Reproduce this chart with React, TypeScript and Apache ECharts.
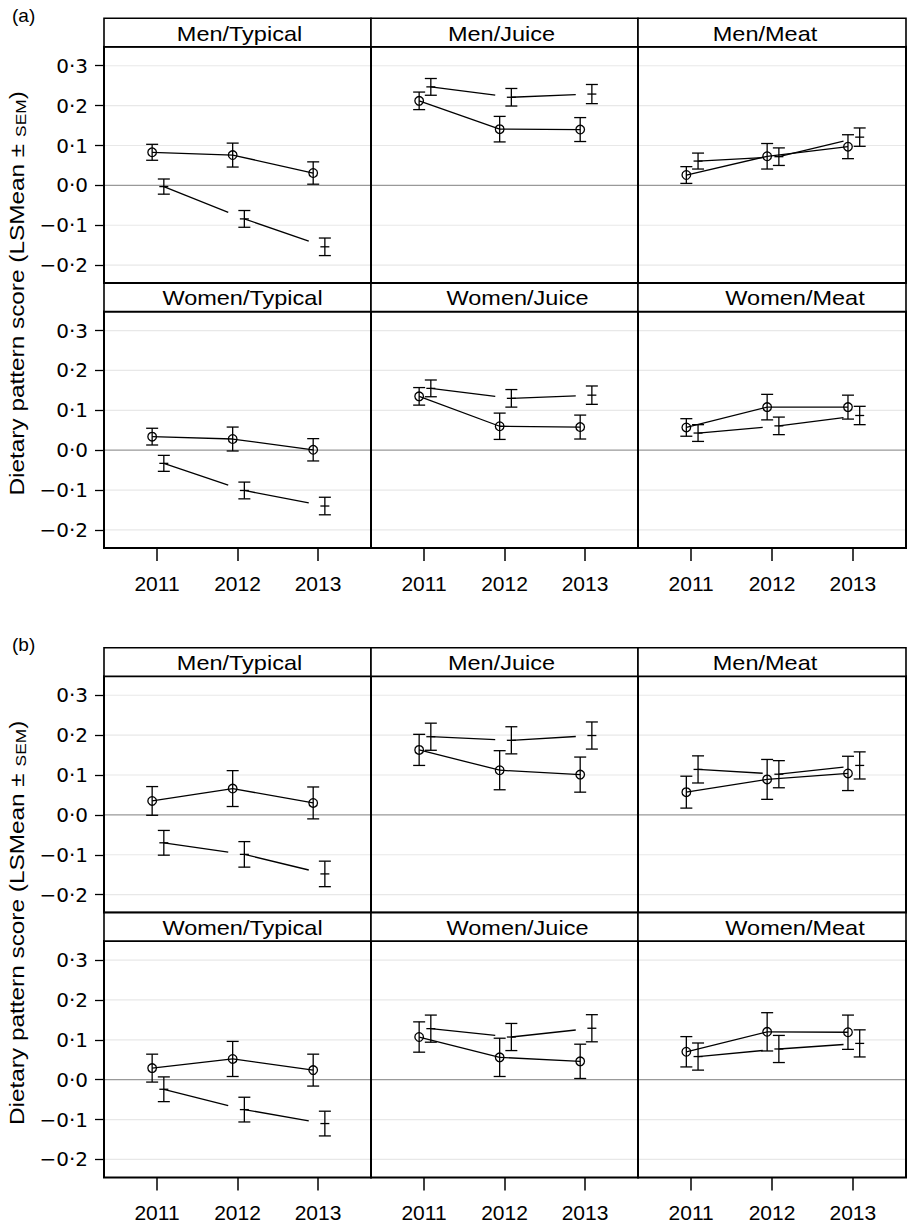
import React, { useEffect, useRef } from 'react';
import * as echarts from 'echarts';

// ---------- data ----------
const years = [2011, 2012, 2013];
const panelTitles = ['Men/Typical', 'Men/Juice', 'Men/Meat', 'Women/Typical', 'Women/Juice', 'Women/Meat'];
const yTickValues = [-0.2, -0.1, 0, 0.1, 0.2, 0.3];
const figureLabels = ['(a)', '(b)'];
const yAxisTitle = 'Dietary pattern score (LSMean \u00b1 {s|SEM})';

// (a) circle group: mean and SEM per panel (rows follow panelTitles)
const aCircleMean = [
  [0.083, 0.076, 0.031],
  [0.212, 0.141, 0.140],
  [0.026, 0.073, 0.097],
  [0.034, 0.028, 0.001],
  [0.135, 0.060, 0.058],
  [0.057, 0.108, 0.108],
];
const aCircleSem = [
  [0.020, 0.030, 0.028],
  [0.022, 0.032, 0.030],
  [0.021, 0.032, 0.030],
  [0.021, 0.030, 0.028],
  [0.022, 0.033, 0.030],
  [0.022, 0.032, 0.030],
];
// (a) dash group
const aDashMean = [
  [-0.003, -0.084, -0.154],
  [0.247, 0.221, 0.229],
  [0.061, 0.072, 0.121],
  [-0.033, -0.101, -0.140],
  [0.155, 0.130, 0.138],
  [0.043, 0.061, 0.087],
];
const aDashSem = [
  [0.019, 0.021, 0.022],
  [0.021, 0.022, 0.024],
  [0.020, 0.022, 0.023],
  [0.020, 0.021, 0.022],
  [0.021, 0.022, 0.023],
  [0.021, 0.022, 0.023],
];
// (b) circle group
const bCircleMean = [
  [0.035, 0.066, 0.030],
  [0.163, 0.112, 0.101],
  [0.057, 0.089, 0.104],
  [0.029, 0.052, 0.024],
  [0.107, 0.056, 0.046],
  [0.070, 0.120, 0.119],
];
const bCircleSem = [
  [0.036, 0.045, 0.040],
  [0.039, 0.049, 0.044],
  [0.040, 0.050, 0.043],
  [0.035, 0.044, 0.040],
  [0.038, 0.048, 0.043],
  [0.038, 0.048, 0.043],
];
// (b) dash group
const bDashMean = [
  [-0.070, -0.099, -0.148],
  [0.196, 0.187, 0.199],
  [0.114, 0.102, 0.124],
  [-0.024, -0.075, -0.110],
  [0.128, 0.107, 0.129],
  [0.058, 0.077, 0.091],
];
const bDashSem = [
  [0.031, 0.032, 0.032],
  [0.034, 0.034, 0.034],
  [0.034, 0.034, 0.034],
  [0.031, 0.031, 0.031],
  [0.034, 0.034, 0.034],
  [0.034, 0.034, 0.034],
];

// ---------- layout / style ----------
const FONT = '"Liberation Sans", Arial, Helvetica, sans-serif';
const LABEL_FONT = '"DejaVu Sans", sans-serif';
const colLeft = [104, 371, 638];
const colWidth = [267, 267, 268];
const figTop = [18.3, 647.8];
const stripH = 28.5;
const plotH = 236.3;
const yMin = -0.245;
const yMax = 0.3475;
const xMin = 2010.342;
const xMax = 2013.658;
const titleShift = [2, -3, -7, 5, 13, 23];

function fmtY(v: number) {
  const s = Math.abs(v).toFixed(1).replace('.', '\u00b7');
  return v < -1e-9 ? '\u2212' + s : s;
}

function makeRender(kind: 'circle' | 'dash', offset: number) {
  return (params: any, api: any) => {
    const x = api.value(0) + offset;
    const m = api.value(1);
    const s = api.value(2);
    const p = api.coord([x, m]);
    const t = api.coord([x, m + s]);
    const b = api.coord([x, m - s]);
    const st = { stroke: '#000', lineWidth: 1.3, fill: null };
    const cap = 6;
    const children: any[] = [];
    const nx = api.value(3);
    if (nx > 0) {
      const q = api.coord([nx + offset, api.value(4)]);
      const frac = kind === 'circle' ? 1 : 0.8;
      children.push({
        type: 'line',
        shape: { x1: p[0], y1: p[1], x2: p[0] + (q[0] - p[0]) * frac, y2: p[1] + (q[1] - p[1]) * frac },
        style: st,
      });
    }
    children.push({ type: 'line', shape: { x1: p[0], y1: t[1], x2: p[0], y2: b[1] }, style: st });
    children.push({ type: 'line', shape: { x1: p[0] - cap, y1: t[1], x2: p[0] + cap, y2: t[1] }, style: st });
    children.push({ type: 'line', shape: { x1: p[0] - cap, y1: b[1], x2: p[0] + cap, y2: b[1] }, style: st });
    if (kind === 'circle') {
      children.push({ type: 'circle', shape: { cx: p[0], cy: p[1], r: 4.3 }, style: { stroke: '#000', lineWidth: 1.3, fill: 'none' } });
    } else {
      children.push({ type: 'line', shape: { x1: p[0] - 4.5, y1: p[1], x2: p[0] + 4.5, y2: p[1] }, style: st });
    }
    return { type: 'group', children };
  };
}

function gridRender(params: any, api: any) {
  const v = api.value(1);
  const a = api.coord([xMin, v]);
  const b = api.coord([xMax, v]);
  const zero = Math.abs(v) < 1e-9;
  return {
    type: 'line',
    shape: { x1: a[0] + 1, y1: a[1], x2: b[0] - 1, y2: b[1] },
    style: { stroke: zero ? '#999999' : '#e8e8e8', lineWidth: zero ? 1.3 : 1.2 },
  };
}

function yLabelRender(params: any, api: any) {
  const v = api.value(1);
  const a = api.coord([xMin, v]);
  return {
    type: 'text',
    x: a[0] - 16,
    y: a[1],
    style: {
      text: fmtY(v), fontSize: 20, fontFamily: LABEL_FONT, fill: '#000',
      align: 'right', verticalAlign: 'middle',
    },
  };
}

function buildOption() {
  const grids: any[] = [];
  const xAxes: any[] = [];
  const yAxes: any[] = [];
  const series: any[] = [];
  const graphics: any[] = [];
  const figs = [
    { cm: aCircleMean, cs: aCircleSem, dm: aDashMean, ds: aDashSem },
    { cm: bCircleMean, cs: bCircleSem, dm: bDashMean, ds: bDashSem },
  ];
  const mk = (means: number[], sems: number[]) =>
    means.map((m, i) => [years[i], m, sems[i], i < years.length - 1 ? years[i + 1] : 0, i < years.length - 1 ? means[i + 1] : 0]);

  figs.forEach((fig, f) => {
    graphics.push({
      type: 'text', x: 12, y: figTop[f] - 3, z: 20,
      style: { text: figureLabels[f], fontSize: 19, fontFamily: FONT, fill: '#000', align: 'left', verticalAlign: 'middle' },
    });
    const titleCenter = figTop[f] + stripH + plotH + stripH / 2 - 4;
    graphics.push({
      type: 'text', x: 17, y: titleCenter, rotation: Math.PI / 2, scaleX: 1.16, z: 20,
      style: {
        text: yAxisTitle, fontSize: 21, fontFamily: FONT, fill: '#000', align: 'center', verticalAlign: 'middle',
        rich: { s: { fontSize: 15, fontFamily: FONT, fill: '#000', verticalAlign: 'bottom' } },
      },
    });
    for (let r = 0; r < 2; r++) {
      for (let c = 0; c < 3; c++) {
        const p = r * 3 + c;
        const stripTop = figTop[f] + r * (stripH + plotH);
        const top = stripTop + stripH;
        const gi = grids.length;
        grids.push({
          left: colLeft[c], top, width: colWidth[c], height: plotH,
          show: true, borderColor: '#000', borderWidth: 2, backgroundColor: 'transparent',
        });
        xAxes.push({
          type: 'value', gridIndex: gi, min: xMin, max: xMax, position: 'bottom',
          axisLine: { show: false, onZero: false }, splitLine: { show: false },
          axisTick: { show: r === 1, length: 13, customValues: years, lineStyle: { color: '#000', width: 1.5 } },
          axisLabel: {
            show: r === 1, customValues: years, margin: 25, fontSize: 21, fontFamily: FONT, color: '#000',
            formatter: (v: number) => String(Math.round(v)),
          },
        });
        yAxes.push({
          type: 'value', gridIndex: gi, min: yMin, max: yMax, position: 'left',
          axisLine: { show: false, onZero: false }, splitLine: { show: false },
          axisTick: { show: c === 0, length: 9, customValues: yTickValues, lineStyle: { color: '#000', width: 1.3 } },
          axisLabel: { show: false },
        });
        series.push({
          type: 'custom', xAxisIndex: gi, yAxisIndex: gi, silent: true, z: 1,
          renderItem: gridRender, data: yTickValues.map((v) => [xMin, v]),
        });
        if (c === 0) {
          series.push({
            type: 'custom', xAxisIndex: gi, yAxisIndex: gi, silent: true, z: 3, clip: false,
            renderItem: yLabelRender, data: yTickValues.map((v) => [xMin, v]),
          });
        }
        series.push({
          type: 'custom', xAxisIndex: gi, yAxisIndex: gi, silent: true, z: 5,
          renderItem: makeRender('circle', -0.06), data: mk(fig.cm[p], fig.cs[p]),
        });
        series.push({
          type: 'custom', xAxisIndex: gi, yAxisIndex: gi, silent: true, z: 5,
          renderItem: makeRender('dash', 0.085), data: mk(fig.dm[p], fig.ds[p]),
        });
        graphics.push({
          type: 'rect', z: 10,
          shape: { x: colLeft[c], y: stripTop, width: colWidth[c], height: stripH },
          style: { fill: '#fff', stroke: '#000', lineWidth: 1.6 },
        });
        graphics.push({
          type: 'text', z: 11, scaleX: 1.12,
          x: colLeft[c] + colWidth[c] / 2 + titleShift[p], y: stripTop + stripH / 2 + 1,
          style: { text: panelTitles[p], fontSize: 21, fontFamily: FONT, fill: '#000', align: 'center', verticalAlign: 'middle' },
        });
      }
    }
  });

  return {
    animation: false,
    backgroundColor: '#fff',
    grid: grids,
    xAxis: xAxes,
    yAxis: yAxes,
    series,
    graphic: graphics,
  };
}

export default function App() {
  const ref = useRef<HTMLDivElement>(null);
  useEffect(() => {
    if (!ref.current) return;
    const chart = echarts.init(ref.current, undefined, { renderer: 'svg' });
    chart.setOption(buildOption() as any);
    return () => chart.dispose();
  }, []);
  return <div ref={ref} style={{ position: 'absolute', left: 0, top: 0, width: 908, height: 1228 }} />;
}
